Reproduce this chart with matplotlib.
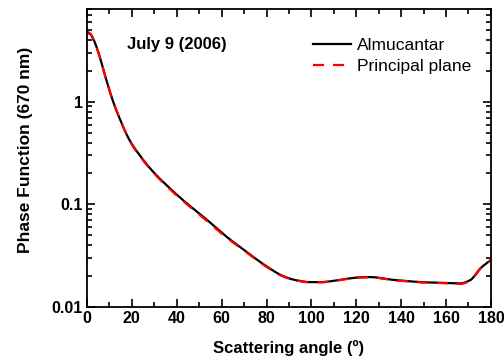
import numpy as np
import matplotlib
matplotlib.use("Agg")
import matplotlib.pyplot as plt
from matplotlib.ticker import MultipleLocator, LogLocator, FixedLocator, FixedFormatter, NullFormatter

plt.rcParams['font.family'] = ['Liberation Sans', 'DejaVu Sans']

# values
angle = [0, 1.5, 3, 5.2, 8.2, 11.4, 14.4, 18.9, 23.3, 29.3, 36.7, 44.1, 51.5, 61.9,
         70, 78.6, 87.5, 93, 99.5, 104, 109.9, 116, 121.8, 126, 136.6, 151.5, 160,
         166.3, 170.8, 175.3, 180]
almucantar = [4.7, 4.55, 4.0, 2.96, 1.75, 1.04, 0.70, 0.425, 0.305, 0.21, 0.145, 0.104,
              0.077, 0.049, 0.036, 0.0262, 0.0200, 0.0183, 0.0175, 0.0175, 0.0180,
              0.0189, 0.0195, 0.0196, 0.0184, 0.0174, 0.0172, 0.0170, 0.0183, 0.0238,
              0.0288]
principal = [4.85, 4.6, 4.0, 2.96, 1.75, 1.04, 0.70, 0.42, 0.30, 0.207, 0.142, 0.102,
             0.075, 0.048, 0.0355, 0.0258, 0.0198, 0.0182, 0.0174, 0.0174, 0.0179,
             0.0188, 0.0194, 0.0195, 0.0183, 0.0173, 0.0171, 0.0168, 0.0181, 0.0236,
             0.0288]


def hermite(x, y, xs):
    # monotone cubic (pchip-like) through the read points, in log space
    x = np.asarray(x, float)
    y = np.log10(np.asarray(y, float))
    h = np.diff(x)
    d = np.diff(y) / h
    m = np.zeros_like(y)
    m[0], m[-1] = d[0], d[-1]
    for i in range(1, len(y) - 1):
        if d[i - 1] * d[i] > 0:
            w1 = 2 * h[i] + h[i - 1]
            w2 = h[i] + 2 * h[i - 1]
            m[i] = (w1 + w2) / (w1 / d[i - 1] + w2 / d[i])
    idx = np.clip(np.searchsorted(x, xs) - 1, 0, len(x) - 2)
    t = (xs - x[idx]) / h[idx]
    h00 = 2 * t**3 - 3 * t**2 + 1
    h10 = t**3 - 2 * t**2 + t
    h01 = -2 * t**3 + 3 * t**2
    h11 = t**3 - t**2
    out = h00 * y[idx] + h10 * h[idx] * m[idx] + h01 * y[idx + 1] + h11 * h[idx] * m[idx + 1]
    return 10 ** out


xs = np.linspace(0, 180, 721)

fig = plt.figure(figsize=(5.04, 3.6), dpi=100)
ax = fig.add_axes([0.1726, 0.147, 0.8014, 0.828])

ax.plot(xs, hermite(angle, almucantar, xs), color='black', lw=1.6, label='Almucantar')
ax.plot(xs, hermite(angle, principal, xs), color='red', lw=1.6, ls=(0, (5, 4)),
        label='Principal plane')

ax.set_yscale('log')
ax.set_xlim(0, 180)
ax.set_ylim(0.01, 8)
ax.xaxis.set_major_locator(MultipleLocator(20))
ax.xaxis.set_minor_locator(MultipleLocator(10))
ax.yaxis.set_major_locator(FixedLocator([0.01, 0.1, 1]))
ax.yaxis.set_major_formatter(FixedFormatter(['0.01', '0.1', '1']))
ax.yaxis.set_minor_locator(LogLocator(base=10, subs=np.arange(2, 10)))
ax.yaxis.set_minor_formatter(NullFormatter())

ax.tick_params(which='both', direction='in', top=True, right=True, width=1.2)
ax.tick_params(which='major', length=6, labelsize=11.5, pad=3)
ax.tick_params(which='minor', length=3.5)
for lab in ax.get_xticklabels() + ax.get_yticklabels():
    lab.set_fontweight('bold')
for s in ax.spines.values():
    s.set_linewidth(1.3)

ax.set_xlabel('Scattering angle (º)', fontsize=12, fontweight='bold', labelpad=10)
ax.set_ylabel('Phase Function (670 nm)', fontsize=12.5, fontweight='bold')
ax.yaxis.set_label_coords(-0.134, 0.527)

ax.text(0.10, 0.88, 'July 9 (2006)', transform=ax.transAxes, fontsize=12,
        fontweight='bold', va='center', ha='left')

ax.legend(loc='upper right', frameon=False, fontsize=12.5, handlelength=2.2,
          handletextpad=0.35, labelspacing=0.35, bbox_to_anchor=(0.99, 0.955))

fig.savefig('out.png', dpi=100)
